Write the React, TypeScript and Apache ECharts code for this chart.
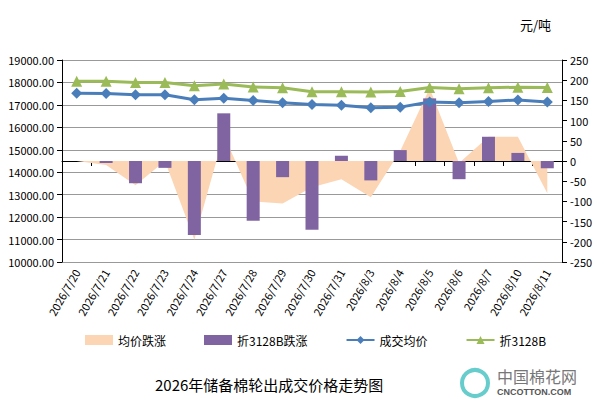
import { useEffect, useRef } from "react";
import * as echarts from "echarts";

const categories = ["2026/7/20","2026/7/21","2026/7/22","2026/7/23","2026/7/24","2026/7/27","2026/7/28","2026/7/29","2026/7/30","2026/7/31","2026/8/3","2026/8/4","2026/8/5","2026/8/6","2026/8/7","2026/8/10","2026/8/11"];
const avgChange = [0, -10, -60, 0, -195, 65, -100, -105, -65, -45, -90, 25, 180, -5, 60, 60, -80];
const changeB = [0, -5, -55, -17, -183, 118, -148, -40, -170, 13, -48, 27, 155, -45, 60, 20, -18];
const avgPrice = [17520, 17510, 17450, 17450, 17230, 17300, 17200, 17100, 17020, 16980, 16870, 16900, 17130, 17090, 17150, 17220, 17130];
const priceB = [18050, 18050, 18000, 18000, 17850, 17930, 17800, 17760, 17590, 17590, 17570, 17600, 17770, 17720, 17760, 17790, 17770];

export default function App() {
  const ref = useRef<HTMLDivElement | null>(null);

  useEffect(() => {
    if (!ref.current) return;
    const chart = echarts.init(ref.current, undefined, { renderer: "svg" });
    const font = "SimSun, 'Noto Sans CJK SC', serif";
    chart.setOption({
      animation: false,
      backgroundColor: "#fff",
      textStyle: { fontFamily: font },
      grid: { left: 62, right: 43, top: 60, bottom: 143 },
      title: {
        text: "2026年储备棉轮出成交价格走势图",
        left: 150, top: 372,
        textStyle: { fontSize: 15, fontWeight: "normal", color: "#000", fontFamily: font },
      },
      graphic: [
        { type: "text", left: 520, top: 18, style: { text: "元/吨", fontSize: 13, fill: "#000", fontFamily: font } },
        { type: "text", left: 497, top: 368, style: { text: "中国棉花网", fontSize: 16, fill: "#777", fontFamily: font } },
        { type: "text", left: 497, top: 387, style: { text: "CNCOTTON.COM", fontSize: 9, fontWeight: "bold", fill: "#555", fontFamily: "Arial" } },
        { type: "circle", shape: { cx: 475, cy: 383, r: 13 }, style: { fill: "none", stroke: "#6cc", lineWidth: 4 } },
      ],
      legend: {
        bottom: 54, left: 80, itemGap: 38, itemWidth: 28, itemHeight: 10,
        textStyle: { fontSize: 12, color: "#000", fontFamily: font },
        data: [
          { name: "均价跌涨", icon: "rect" },
          { name: "折3128B跌涨", icon: "rect" },
          { name: "成交均价" },
          { name: "折3128B" },
        ],
      },
      xAxis: {
        type: "category", data: categories, boundaryGap: true,
        axisLine: { lineStyle: { color: "#000" } },
        axisTick: { show: true, alignWithLabel: false, lineStyle: { color: "#000" } },
        axisLabel: { rotate: 60, interval: 0, fontSize: 11, color: "#000", margin: 8 },
      },
      yAxis: [
        {
          type: "value", min: 10000, max: 19000, interval: 1000,
          axisLine: { show: true, lineStyle: { color: "#000" } },
          axisTick: { show: true },
          axisLabel: { formatter: (v: number) => v.toFixed(2), fontSize: 11, color: "#000" },
          splitLine: { lineStyle: { color: "#999" } },
        },
        {
          type: "value", min: -250, max: 250, interval: 50,
          axisLine: { show: true, lineStyle: { color: "#000" } },
          axisTick: { show: true },
          axisLabel: { fontSize: 11, color: "#000" },
          splitLine: { show: false },
        },
      ],
      series: [
        {
          name: "均价跌涨", type: "line", yAxisIndex: 1, data: avgChange, symbol: "none", z: 1,
          lineStyle: { width: 0 }, areaStyle: { color: "#fcd5b5", opacity: 1 }, itemStyle: { color: "#fcd5b5" },
        },
        {
          name: "折3128B跌涨", type: "bar", yAxisIndex: 1, data: changeB, barWidth: 13, z: 3,
          itemStyle: { color: "#8064a2" },
        },
        {
          name: "成交均价", type: "line", data: avgPrice, symbol: "diamond", symbolSize: 11, z: 4,
          lineStyle: { color: "#4a7ebb", width: 3 }, itemStyle: { color: "#4a7ebb" },
        },
        {
          name: "折3128B", type: "line", data: priceB, symbol: "triangle", symbolSize: 11, z: 4,
          lineStyle: { color: "#9bbb59", width: 3 }, itemStyle: { color: "#9bbb59" },
        },
      ],
    });
    return () => chart.dispose();
  }, []);

  return <div ref={ref} style={{ width: 605, height: 405, position: "absolute", left: 0, top: 0 }} />;
}
